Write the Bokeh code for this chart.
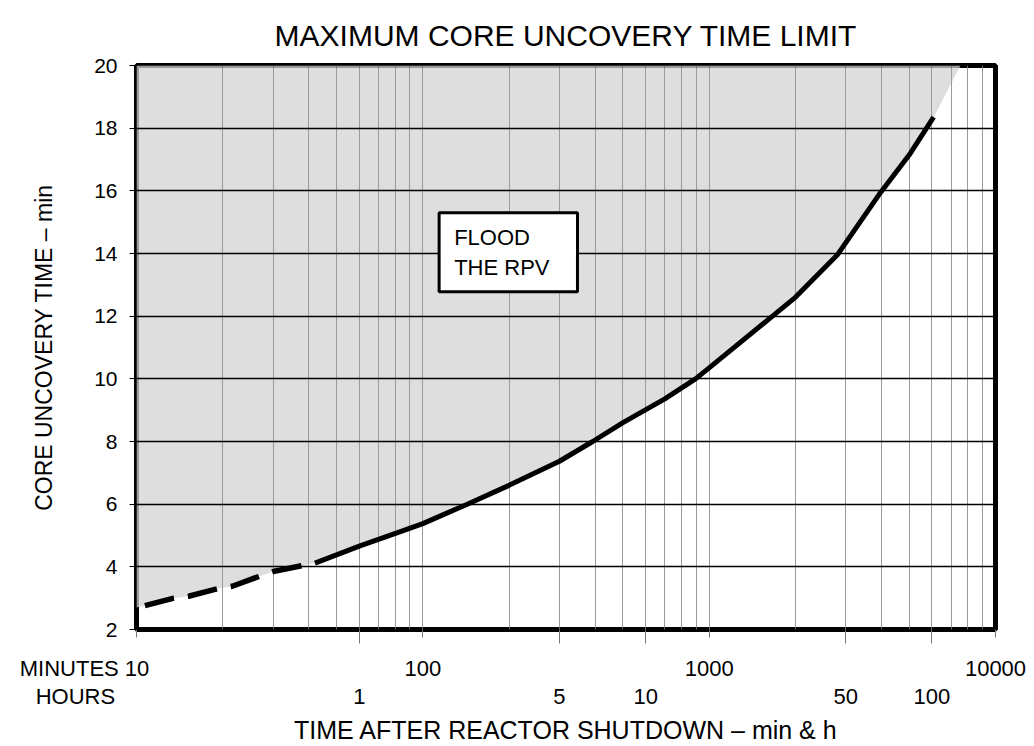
from bokeh.plotting import figure
from bokeh.models import Range1d, FixedTicker, LogAxis, Label, BoxAnnotation
from bokeh.embed import file_html
from bokeh.resources import INLINE

# ---------------- data ----------------
# dashed (uncertain) part of the limit curve: minutes after shutdown, core uncovery time (min)
dash_min = [10.7, 13.5, 15.2, 19.2, 21.6, 26.9, 30, 38]
dash_val = [2.76, 3.0, 3.06, 3.3, 3.38, 3.7, 3.85, 4.04]
# solid part of the limit curve
solid_min = [42, 60, 84, 100, 143, 200, 300, 392, 500, 700, 896, 1000,
             1664, 2000, 2800, 3970, 5000, 6080]
solid_val = [4.12, 4.66, 5.13, 5.38, 6.0, 6.6, 7.37, 8.0, 8.6, 9.36, 10.0, 10.35,
             12.0, 12.6, 13.95, 15.95, 17.15, 18.35]
# shaded "flood" region edges
shade_left_val = 2.7      # value of the shaded edge at the left axis (10 min)
shade_top_min = 7550      # where the shaded edge meets the top (20 min)

# axes
minute_ticks = [10, 100, 1000, 10000]
minute_labels = ["10", "100", "1000", "10000"]
hour_ticks_min = [60, 300, 600, 3000, 6000]
hour_labels = ["1", "5", "10", "50", "100"]
y_ticks = [2, 4, 6, 8, 10, 12, 14, 16, 18, 20]
minutes_caption = "MINUTES"
hours_caption = "HOURS"

FONT = "Liberation Sans"
TXT = "black"
NB = "\u00a0"

p = figure(width=1034, height=746, x_axis_type="log",
           x_range=Range1d(10, 10000), y_range=Range1d(2, 20),
           output_backend="svg", toolbar_location=None,
           min_border_left=136, min_border_right=39,
           min_border_top=65, min_border_bottom=114,
           title="MAXIMUM CORE UNCOVERY TIME LIMIT")

p.background_fill_color = "white"
p.border_fill_color = "white"
p.outline_line_color = "black"
p.outline_line_width = 5

p.title.text_font = FONT
p.title.text_font_size = "30px"
p.title.text_font_style = "normal"
p.title.text_color = TXT
p.title.align = "center"
p.title.standoff = 27

# grids
grid_positions = [m * 10 ** d for d in (1, 2, 3) for m in range(1, 10)] + [10000]
xg = p.xgrid[0]
xg.ticker = FixedTicker(ticks=grid_positions)
xg.grid_line_color = "#9a9a9a"
xg.grid_line_width = 1
xg.level = "glyph"
yg = p.ygrid[0]
yg.ticker = FixedTicker(ticks=y_ticks)
yg.grid_line_color = "black"
yg.grid_line_width = 1.3
yg.level = "glyph"

# shaded region
shade_x = [10] + dash_min + solid_min + [shade_top_min, 10]
shade_y = [shade_left_val] + dash_val + solid_val + [20, 20]
p.patch(shade_x, shade_y, fill_color="#dedede", line_color=None, level="underlay")

# frame border drawn again above the shading
p.add_layout(BoxAnnotation(fill_color=None, fill_alpha=0, line_color="black", line_width=5))

# curve
p.line(dash_min, dash_val, line_color="black", line_width=5.5, line_dash="30 14", level="overlay")
p.line(solid_min, solid_val, line_color="black", line_width=5, level="overlay")

# minutes axis (default); the row caption is carried by the first tick label
min_overrides = {t: l for t, l in zip(minute_ticks, minute_labels)}
min_overrides[minute_ticks[0]] = minutes_caption + NB + minute_labels[0] + NB * 17
xa = p.xaxis[0]
xa.ticker = FixedTicker(ticks=minute_ticks, minor_ticks=hour_ticks_min)
xa.major_label_overrides = min_overrides
xa.axis_line_color = None
xa.major_tick_in = 0
xa.major_tick_out = 8
xa.minor_tick_in = 0
xa.minor_tick_out = 14
xa.major_tick_line_color = "#777777"
xa.minor_tick_line_color = "#777777"
xa.major_label_standoff = 12
xa.major_label_text_font = FONT
xa.major_label_text_font_size = "22px"
xa.major_label_text_color = TXT

# hours axis; caption carried by an unmarked tick at the left edge
hr_ticks = [minute_ticks[0]] + hour_ticks_min
hr_overrides = {t: l for t, l in zip(hour_ticks_min, hour_labels)}
hr_overrides[minute_ticks[0]] = hours_caption + NB * 20
ha = LogAxis(ticker=FixedTicker(ticks=hr_ticks), major_label_overrides=hr_overrides)
ha.axis_line_color = None
ha.major_tick_line_color = None
ha.minor_tick_line_color = None
ha.major_tick_in = 0
ha.major_tick_out = 0
ha.major_label_standoff = 0
ha.major_label_text_font = FONT
ha.major_label_text_font_size = "22px"
ha.major_label_text_color = TXT
ha.axis_label = "TIME AFTER REACTOR SHUTDOWN \u2013 min & h"
ha.axis_label_text_font = FONT
ha.axis_label_text_font_size = "25px"
ha.axis_label_text_font_style = "normal"
ha.axis_label_text_color = TXT
ha.axis_label_standoff = 4
p.add_layout(ha, "below")

# y axis
ya = p.yaxis[0]
ya.ticker = FixedTicker(ticks=y_ticks)
ya.axis_line_color = None
ya.major_tick_in = 0
ya.major_tick_out = 7
ya.major_tick_line_color = "black"
ya.minor_tick_line_color = None
ya.major_label_standoff = 12
ya.major_label_text_font = FONT
ya.major_label_text_font_size = "21px"
ya.major_label_text_color = TXT
ya.axis_label = "CORE UNCOVERY TIME \u2013 min"
ya.axis_label_text_font = FONT
ya.axis_label_text_font_size = "23px"
ya.axis_label_text_font_style = "normal"
ya.axis_label_text_color = TXT
ya.axis_label_standoff = 34

# annotation box
p.add_layout(Label(x=114, y=15.3, text="FLOOD\nTHE RPV", text_align="left", text_baseline="top",
                   text_font=FONT, text_font_size="22px", text_color=TXT,
                   text_line_height=1.2,
                   border_line_color="black", border_line_width=3,
                   background_fill_color="white",
                   padding=dict(left=15, right=28, top=12, bottom=12)))

open("out.html", "w").write(file_html(p, INLINE))
